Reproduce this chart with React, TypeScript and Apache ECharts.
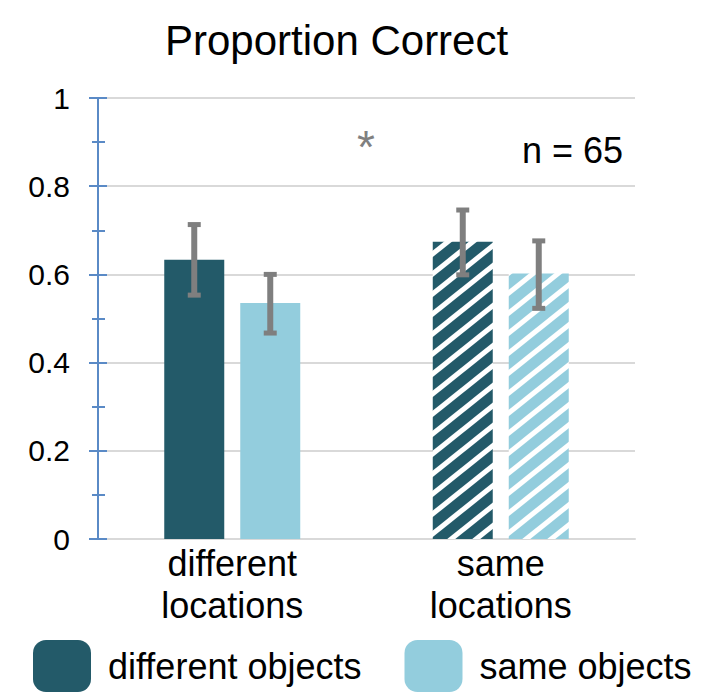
import React, { useEffect, useRef } from "react";
import * as echarts from "echarts";

const categories = ["different\nlocations", "same\nlocations"];
const seriesNames = ["different objects", "same objects"];
const diffObjValues = [0.633, 0.674];
const sameObjValues = [0.535, 0.602];
const diffObjErrLow = [0.553, 0.599];
const diffObjErrHigh = [0.713, 0.746];
const sameObjErrLow = [0.467, 0.523];
const sameObjErrHigh = [0.6, 0.676];
const hatchedCategory = [false, true];
const titleText = "Proportion Correct";
const starText = "*";
const nText = "n = 65";

const DARK = "#235A69";
const LIGHT = "#93CDDD";
const FONT = "'Liberation Sans', Arial, sans-serif";
const BAR_W = 60;
const BAR_GAP = 16;

function hatchPattern(color: string) {
  const W = 25;
  const H = 20;
  const svg =
    `<svg xmlns="http://www.w3.org/2000/svg" width="${W}" height="${H}">` +
    `<rect width="${W}" height="${H}" fill="${color}"/>` +
    `<g stroke="#ffffff" stroke-width="5">` +
    `<line x1="${-W}" y1="${H}" x2="${W}" y2="${-H}"/>` +
    `<line x1="0" y1="${H}" x2="${W}" y2="0"/>` +
    `<line x1="0" y1="${2 * H}" x2="${2 * W}" y2="0"/>` +
    `</g></svg>`;
  return {
    image: "data:image/svg+xml;charset=utf-8," + encodeURIComponent(svg),
    repeat: "repeat",
    imageWidth: W,
    imageHeight: H,
  };
}

function barData(values: number[], color: string) {
  return values.map((v, i) =>
    hatchedCategory[i] ? { value: v, itemStyle: { color: hatchPattern(color) } } : v
  );
}

function errData(lo: number[], hi: number[]) {
  return lo.map((l, i) => [i, l, hi[i]]);
}

function makeErrRender(offset: number) {
  return (params: any, api: any) => {
    const idx = api.value(0);
    const lo = api.coord([idx, api.value(1)]);
    const hi = api.coord([idx, api.value(2)]);
    const x = lo[0] + offset;
    const stemW = 6;
    const capW = 13;
    const capH = 5;
    const style = { fill: "#7F7F7F" };
    return {
      type: "group",
      children: [
        { type: "rect", shape: { x: x - stemW / 2, y: hi[1], width: stemW, height: lo[1] - hi[1] }, style },
        { type: "rect", shape: { x: x - capW / 2, y: hi[1] - capH / 2, width: capW, height: capH }, style },
        { type: "rect", shape: { x: x - capW / 2, y: lo[1] - capH / 2, width: capW, height: capH }, style },
      ],
    };
  };
}

export default function App() {
  const ref = useRef<HTMLDivElement>(null);
  useEffect(() => {
    document.body.style.margin = "0";
    if (!ref.current) return;
    const chart = echarts.init(ref.current, undefined, { renderer: "svg" });
    const half = (BAR_W + BAR_GAP) / 2;
    const baseY = {
      type: "value",
      min: 0,
      max: 1,
      interval: 0.2,
      position: "left",
    };
    chart.setOption({
      animation: false,
      backgroundColor: "#ffffff",
      textStyle: { fontFamily: FONT },
      title: {
        text: titleText,
        left: 160,
        top: 14,
        textStyle: { fontFamily: FONT, fontSize: 42, fontWeight: "normal", color: "#000" },
      },
      legend: {
        data: seriesNames,
        left: 28,
        top: 635,
        icon: "roundRect",
        itemWidth: 58,
        itemHeight: 52,
        itemGap: 43,
        textStyle: { fontFamily: FONT, fontSize: 36, color: "#000", padding: [0, 0, 0, 12] },
      },
      grid: { left: 98, right: 66, top: 98, bottom: 153 },
      xAxis: {
        type: "category",
        data: categories,
        axisLine: { lineStyle: { color: "#D9D9D9", width: 2 } },
        axisTick: { show: false },
        axisLabel: { fontFamily: FONT, fontSize: 36, color: "#000", lineHeight: 42, margin: 3 },
      },
      yAxis: [
        {
          ...baseY,
          axisLine: { show: true, lineStyle: { color: "#5A8AC6", width: 2 } },
          axisTick: { show: true, length: 9, lineStyle: { color: "#5A8AC6", width: 2 } },
          minorTick: { show: true, splitNumber: 2, length: 6, lineStyle: { color: "#5A8AC6", width: 2 } },
          splitLine: { show: true, lineStyle: { color: "#D9D9D9", width: 2 } },
          axisLabel: { fontFamily: FONT, fontSize: 30, color: "#000", margin: 28 },
        },
        {
          ...baseY,
          axisLine: { show: true, lineStyle: { color: "#5A8AC6", width: 2 } },
          axisTick: { show: true, inside: true, length: 9, lineStyle: { color: "#5A8AC6", width: 2 } },
          minorTick: { show: true, splitNumber: 2, length: 7, lineStyle: { color: "#5A8AC6", width: 2 } },
          splitLine: { show: false },
          axisLabel: { show: false },
        },
      ],
      graphic: [
        {
          type: "text",
          x: 366,
          y: 147,
          style: { text: starText, fontFamily: FONT, fontSize: 46, fill: "#808080", textAlign: "center", textVerticalAlign: "middle" },
        },
        {
          type: "text",
          x: 623,
          y: 150,
          style: { text: nText, fontFamily: FONT, fontSize: 36, fill: "#000", textAlign: "right", textVerticalAlign: "middle" },
        },
      ],
      series: [
        {
          name: seriesNames[0],
          type: "bar",
          barWidth: BAR_W,
          barGap: (BAR_GAP / BAR_W) * 100 + "%",
          itemStyle: { color: DARK },
          data: barData(diffObjValues, DARK),
        },
        {
          name: seriesNames[1],
          type: "bar",
          barWidth: BAR_W,
          barGap: (BAR_GAP / BAR_W) * 100 + "%",
          itemStyle: { color: LIGHT },
          data: barData(sameObjValues, LIGHT),
        },
        {
          type: "custom",
          z: 5,
          renderItem: makeErrRender(-half),
          data: errData(diffObjErrLow, diffObjErrHigh),
          encode: { x: 0, y: [1, 2] },
        },
        {
          type: "custom",
          z: 5,
          renderItem: makeErrRender(half),
          data: errData(sameObjErrLow, sameObjErrHigh),
          encode: { x: 0, y: [1, 2] },
        },
      ],
    });
    return () => chart.dispose();
  }, []);
  return <div ref={ref} style={{ width: 701, height: 692 }} />;
}
